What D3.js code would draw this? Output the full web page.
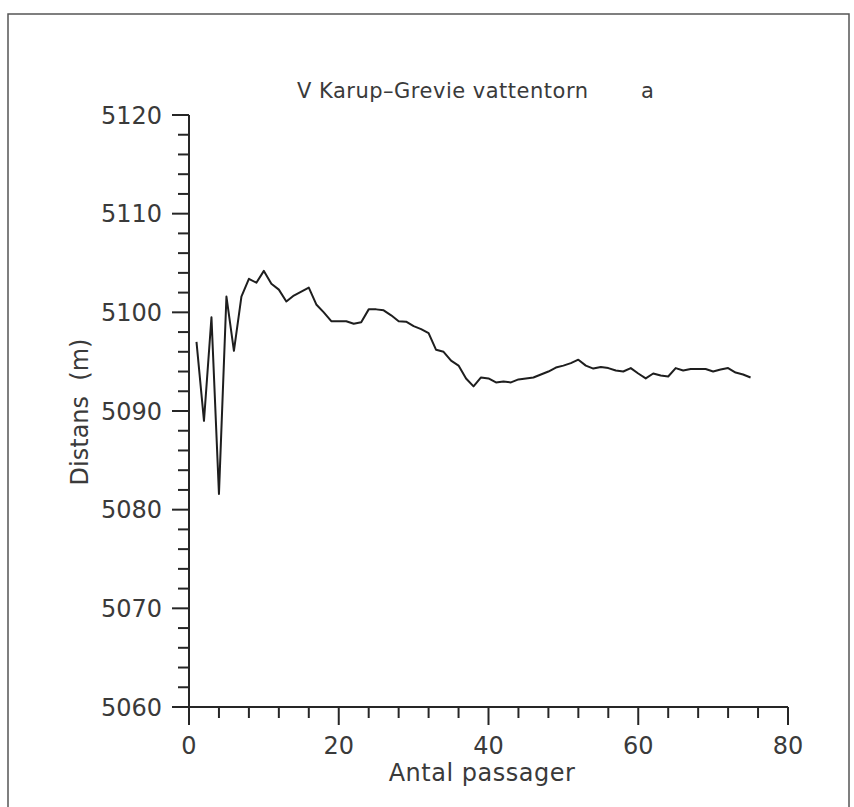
<!DOCTYPE html>
<html>
<head>
<meta charset="utf-8">
<script src="https://cdn.jsdelivr.net/npm/d3@7"></script>
<style>
  html, body { margin: 0; padding: 0; background: #fff; }
  svg { display: block; }
  text { font-family: "DejaVu Sans", sans-serif; fill: #3a3a3a; white-space: pre; }
</style>
</head>
<body>
<svg id="chart" width="854" height="807"></svg>
<script>
// ---- data ----
const passages = d3.range(1, 76);
const distances = [
  5097.0, 5089.0, 5099.5, 5081.6, 5101.6, 5096.1, 5101.6, 5103.4, 5103.0, 5104.2,
  5102.9, 5102.3, 5101.1, 5101.7, 5102.1, 5102.5, 5100.8, 5100.0, 5099.1, 5099.1,
  5099.1, 5098.85, 5099.0, 5100.3, 5100.3, 5100.2, 5099.7, 5099.1, 5099.05, 5098.6,
  5098.3, 5097.9, 5096.2, 5096.0, 5095.1, 5094.6, 5093.3, 5092.5, 5093.4, 5093.3,
  5092.9, 5093.0, 5092.9, 5093.2, 5093.3, 5093.4, 5093.7, 5094.0, 5094.4, 5094.6,
  5094.85, 5095.2, 5094.6, 5094.3, 5094.45, 5094.35, 5094.1, 5094.0, 5094.35, 5093.8,
  5093.3, 5093.8, 5093.6, 5093.5, 5094.35, 5094.1, 5094.25, 5094.25, 5094.25, 5094.0,
  5094.2, 5094.35, 5093.9, 5093.7, 5093.4
];
const xMajorTicks = [0, 20, 40, 60, 80];
const xMinorTicks = d3.range(0, 81, 4);
const yMajorTicks = [5060, 5070, 5080, 5090, 5100, 5110, 5120];
const yMinorTicks = d3.range(5060, 5121, 2);
const titleText = "V Karup\u2013Grevie vattentorn";
const titleSuffix = "a";
const xLabel = "Antal passager";
const yLabel = "Distans  (m)";

// ---- layout ----
const svg = d3.select("#chart");
const x = d3.scaleLinear().domain([0, 80]).range([189, 788]);
const y = d3.scaleLinear().domain([5060, 5120]).range([707, 115]);
const ink = "#262626";

// frame
svg.append("path")
  .attr("d", "M8,807 L8,14 L849,14 L849,807")
  .attr("fill", "none").attr("stroke", "#555").attr("stroke-width", 1.5);

// y axis
const gy = svg.append("g");
gy.append("line").attr("x1", x(0)).attr("x2", x(0)).attr("y1", y(5120)).attr("y2", y(5060) + 18)
  .attr("stroke", ink).attr("stroke-width", 2);
gy.selectAll("line.ymin").data(yMinorTicks).join("line")
  .attr("x1", d => x(0) - (yMajorTicks.includes(d) ? 17 : 11)).attr("x2", x(0))
  .attr("y1", d => y(d)).attr("y2", d => y(d))
  .attr("stroke", ink).attr("stroke-width", 2);
gy.selectAll("text").data(yMajorTicks).join("text")
  .attr("x", 162).attr("y", d => y(d)).attr("dy", "0.36em")
  .attr("text-anchor", "end").attr("font-size", 24)
  .text(d => d);

// x axis
const gx = svg.append("g");
gx.append("line").attr("x1", x(0)).attr("x2", x(80)).attr("y1", y(5060)).attr("y2", y(5060))
  .attr("stroke", ink).attr("stroke-width", 2);
gx.selectAll("line.xt").data(xMinorTicks).join("line")
  .attr("x1", d => x(d)).attr("x2", d => x(d))
  .attr("y1", y(5060)).attr("y2", d => y(5060) + (xMajorTicks.includes(d) ? 18 : 11))
  .attr("stroke", ink).attr("stroke-width", 2);
gx.selectAll("text").data(xMajorTicks).join("text")
  .attr("x", d => x(d)).attr("y", 754)
  .attr("text-anchor", "middle").attr("font-size", 24)
  .text(d => d);

// axis labels
svg.append("text").attr("x", 482).attr("y", 781).attr("text-anchor", "middle")
  .attr("font-size", 24).attr("letter-spacing", 0.5).text(xLabel);
svg.append("text").attr("transform", "translate(88,412) rotate(-90)")
  .attr("text-anchor", "middle").attr("font-size", 24).text(yLabel);

// title
svg.append("text").attr("x", 297).attr("y", 98).attr("font-size", 21)
  .attr("letter-spacing", 0.5).text(titleText);
svg.append("text").attr("x", 641).attr("y", 98).attr("font-size", 21).text(titleSuffix);

// data line
const line = d3.line().x((d, i) => x(passages[i])).y(d => y(d));
svg.append("path").datum(distances)
  .attr("d", line).attr("fill", "none")
  .attr("stroke", "#1e1e1e").attr("stroke-width", 2).attr("stroke-linejoin", "round");
</script>
</body>
</html>
